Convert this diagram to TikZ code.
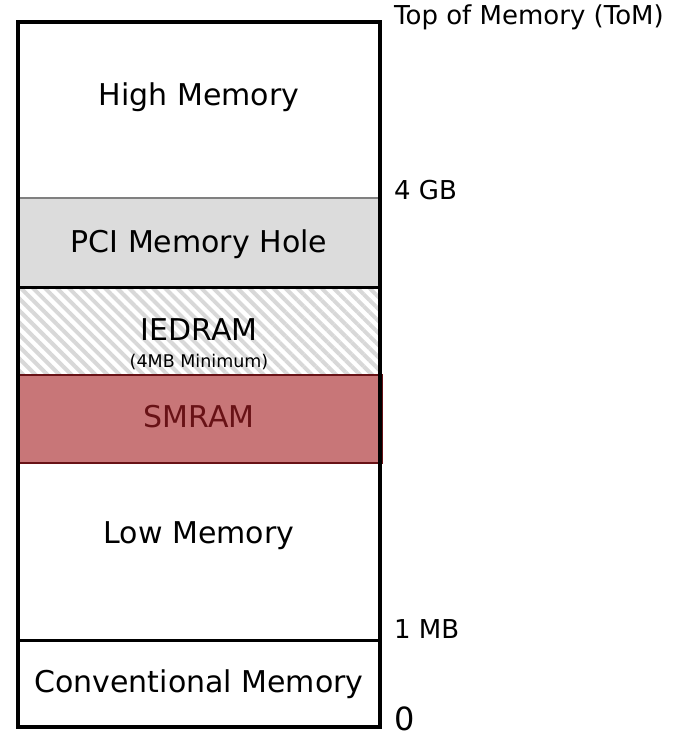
\documentclass[tikz,border=0pt]{standalone}
\usepackage{fontspec}
\setmainfont{DejaVu Sans}
\usetikzlibrary{patterns.meta}

\definecolor{holegray}{RGB}{220,220,220}
\definecolor{hatchgray}{RGB}{216,216,216}
\definecolor{smmfill}{RGB}{200,118,120}
\definecolor{smmdark}{RGB}{104,18,22}

% One address mark at the right of the map: name, baseline, text.
\NewDocumentCommand{\addrmark}{mmmO{26}}{%
\node[addr,font=\fontsize{#4}{#4}\selectfont] (#1) at (394,#2) {#3};%
}

\begin{document}
\begin{tikzpicture}[x=1pt,y=-1pt,
    region/.style={font=\fontsize{30}{36}\selectfont,anchor=base,inner sep=0pt},
    addr/.style={anchor=base west,inner sep=0pt}]
        \useasboundingbox (0,0) rectangle (673,736);

        % PCI hole and IEDRAM fills.
        \fill[holegray] (18,198) rectangle (380,287);
        \fill[pattern={Lines[angle=-45,distance=8.5pt,line width=4pt]},pattern color=hatchgray] (18,287) rectangle (380,375);

        % Band borders.
        \draw[gray,line width=1.2pt] (18,198) -- (380,198);
        \draw[line width=3pt] (18,287) -- (380,287);
        \draw[line width=3pt] (18,640) -- (380,640);

        % SMRAM.
        \draw[smmdark,fill=smmfill,line width=2pt] (18,375) rectangle (382,463);

        % Outer frame.
        \draw[line width=4pt] (18,22) rectangle (380,727);

        % Band names.
        \node[region] (high) at (199,105) {High Memory};
        \node[region] (pci) at (199,252) {PCI Memory Hole};
        \node[region] (iedram) at (199,340) {IEDRAM};
        \node[anchor=base,inner sep=0pt,font=\fontsize{17.5}{20}\selectfont] (iedmin) at (199,367) {(4MB Minimum)};
        \node[region,text=smmdark] (smram) at (199,427) {SMRAM};
        \node[region] (low) at (199,543) {Low Memory};
        \node[region] (conv) at (199,692) {Conventional Memory};

        % Addresses.
        \addrmark{tom}{24}{Top of Memory (ToM)}
        \addrmark{fourgb}{199}{4 GB}
        \addrmark{onemb}{638}{1 MB}
        \addrmark{zero}{730}{0}[32]
    \end{tikzpicture}
\end{document}
